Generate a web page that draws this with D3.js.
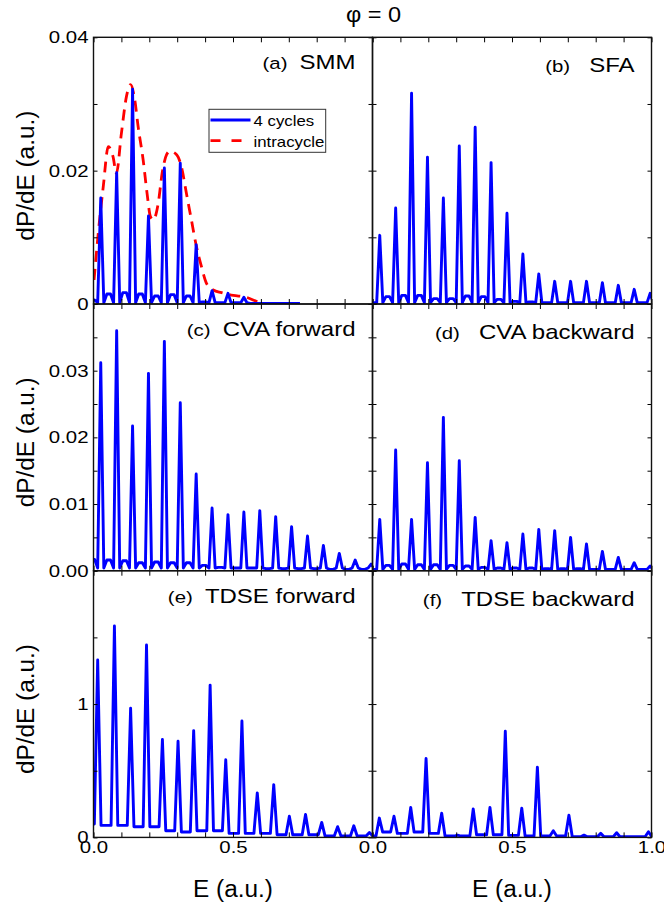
<!DOCTYPE html>
<html>
<head>
<meta charset="utf-8">
<script src="https://cdn.jsdelivr.net/npm/d3@7"></script>
<style>
  body { margin: 0; background: #fff; }
  svg text { font-family: Arial, "Liberation Sans", sans-serif; fill: #000; }
</style>
</head>
<body>
<div id="chart"></div>
<script>
// energies of the peaks (a.u.)
const peakE = [0.026, 0.083, 0.140, 0.197, 0.254, 0.311, 0.368, 0.425, 0.482, 0.539,
               0.596, 0.653, 0.710, 0.767, 0.824, 0.881, 0.938, 0.995];
const peakE_tdseFwd = [0.015, 0.075, 0.133, 0.190, 0.247, 0.303, 0.359, 0.418, 0.474, 0.532,
                       0.587, 0.646, 0.702, 0.760, 0.818, 0.875, 0.933, 0.989];
const peakE_tdseBwd = [0.0245, 0.077, 0.137, 0.192, 0.248, 0.305, 0.361, 0.421, 0.476, 0.535,
                       0.591, 0.648, 0.704, 0.758, 0.818, 0.875, 0.932, 0.989];

// peak heights
const smmPeaks = [0.0159, 0.0197, 0.0322, 0.0132, 0.0204, 0.0211, 0.0089, 0.0020, 0.0016, 0.0010];
const sfaPeaks = [0.0103, 0.0144, 0.0316, 0.0220, 0.0159, 0.0237, 0.0265, 0.0212, 0.0136, 0.0075,
                  0.0045, 0.0034, 0.0034, 0.0034, 0.0032, 0.0028, 0.0022, 0.0016];
const cvaFwdPeaks = [0.0312, 0.0360, 0.0217, 0.0296, 0.0344, 0.0252, 0.0145, 0.0094, 0.0084, 0.0088,
                     0.0090, 0.0081, 0.0066, 0.0052, 0.0038, 0.0026, 0.0016, 0.0010];
const cvaBwdPeaks = [0.0077, 0.0181, 0.0077, 0.0162, 0.0230, 0.0165, 0.0080, 0.0045, 0.0042, 0.0055,
                     0.0062, 0.0060, 0.0050, 0.0040, 0.0029, 0.0020, 0.0012, 0.0007];
const tdseFwdPeaks = [1.331, 1.585, 0.968, 1.443, 0.734, 0.721, 0.801, 1.142, 0.582, 0.873,
                      0.333, 0.396, 0.159, 0.172, 0.112, 0.080, 0.087, 0.037];
const tdseBwdPeaks = [0.145, 0.159, 0.224, 0.592, 0.182, 0.017, 0.214, 0.225, 0.796, 0.219,
                      0.527, 0.050, 0.167, 0.017, 0.030, 0.035, 0.006, 0.042];

// background level before / between / after the peaks
const smmFloor = [0.0006, 0.0015, 0.0017, 0.0015, 0.0012, 0.0014, 0.0012, 0.0003, 0.0002, 0.0002, 0.0001];
const sfaFloor = [0.0002, 0.0011, 0.0013, 0.0013, 0.0008, 0.0008, 0.0012, 0.0011, 0.0007, 0.0004,
                  0.0003, 0.0002, 0.0002, 0.0002, 0.0002, 0.0002, 0.0002, 0.0002, 0.0002];
const cvaFwdFloor = [0.0017, 0.0016, 0.0015, 0.0012, 0.0013, 0.0012, 0.0012, 0.0008, 0.0005, 0.0004,
                     0.0004, 0.0003, 0.0003, 0.0003, 0.0003, 0.0002, 0.0002, 0.0002, 0.0002];
const cvaBwdFloor = [0.0002, 0.0008, 0.0010, 0.0009, 0.0009, 0.0008, 0.0007, 0.0005, 0.0004, 0.0004,
                     0.0004, 0.0003, 0.0003, 0.0003, 0.0002, 0.0002, 0.0002, 0.0002, 0.0002];
const tdseFwdFloor = [0.10, 0.09, 0.09, 0.08, 0.08, 0.05, 0.04, 0.05, 0.05, 0.03,
                      0.03, 0.03, 0.02, 0.02, 0.02, 0.01, 0.01, 0.01, 0.01];
const tdseBwdFloor = [0.01, 0.04, 0.03, 0.04, 0.03, 0.01, 0.01, 0.02, 0.02, 0.015,
                      0.01, 0.01, 0.01, 0.005, 0.005, 0.005, 0.005, 0.005, 0.005];

// intracycle envelope of panel (a): [E, dP/dE]
const intracycle = [[0.002, 0.0036], [0.017, 0.0106], [0.035, 0.0176], [0.053, 0.0236], [0.070, 0.0221],
  [0.082, 0.0196], [0.100, 0.0256], [0.118, 0.0311], [0.133, 0.0329], [0.148, 0.0306],
  [0.160, 0.0266], [0.178, 0.0216], [0.192, 0.0166], [0.204, 0.0131], [0.214, 0.0126],
  [0.232, 0.0151], [0.246, 0.0196], [0.262, 0.0224], [0.274, 0.0229], [0.298, 0.0224],
  [0.315, 0.0206], [0.333, 0.0166], [0.351, 0.0126], [0.369, 0.0086], [0.387, 0.0056],
  [0.405, 0.0031], [0.429, 0.0021], [0.459, 0.0017], [0.501, 0.0013], [0.548, 0.0010],
  [0.584, 0.0004], [0.608, 0.0], [0.716, 0.0]];

// ticks and labels
const xTicks = [0, 0.1, 0.2, 0.3, 0.4, 0.5, 0.6, 0.7, 0.8, 0.9, 1.0];
const yTicksTop = [0, 0.01, 0.02, 0.03, 0.04];
const yTicksMid = [0, 0.005, 0.01, 0.015, 0.02, 0.025, 0.03, 0.035, 0.04];
const yTicksBot = [0, 0.5, 1, 1.5, 2];
const yLabTop = [[0, "0"], [0.02, "0.02"], [0.04, "0.04"]];
const yLabMid = [[0, "0.00"], [0.01, "0.01"], [0.02, "0.02"], [0.03, "0.03"]];
const yLabBot = [[0, "0"], [1, "1"]];
const xLabLeft = [[0, "0.0"], [0.5, "0.5"]];
const xLabRight = [[0, "0.0"], [0.5, "0.5"], [1, "1.0"]];

// layout
const W = 664, H = 906;
const colX = [93.5, 372.5], pw = 279;
const rowY = [37.3, 304, 570.7], ph = 266.7;

const rows = [
  { domain: [0, 0.04], ticks: yTicksTop, labels: yLabTop },
  { domain: [0, 0.04], ticks: yTicksMid, labels: yLabMid },
  { domain: [0, 2], ticks: yTicksBot, labels: yLabBot },
];

// foot: level the line drops to right beside each peak (null = stay on the background)
const panels = [
  { tag: "(a)", name: "SMM", row: 0, col: 0, E: peakE.slice(0, smmPeaks.length), h: smmPeaks, floor: smmFloor, hw: 0.011, foot: 0.0002, end: 0.74 },
  { tag: "(b)", name: "SFA", row: 0, col: 1, E: peakE, h: sfaPeaks, floor: sfaFloor, hw: 0.011, foot: 0.0002, end: 1.0 },
  { tag: "(c)", name: "CVA forward", row: 1, col: 0, E: peakE, h: cvaFwdPeaks, floor: cvaFwdFloor, hw: 0.011, foot: 0.0004, end: 1.0 },
  { tag: "(d)", name: "CVA backward", row: 1, col: 1, E: peakE, h: cvaBwdPeaks, floor: cvaBwdFloor, hw: 0.011, foot: 0.0002, end: 1.0 },
  { tag: "(e)", name: "TDSE forward", row: 2, col: 0, E: peakE_tdseFwd, h: tdseFwdPeaks, floor: tdseFwdFloor, hw: 0.012, foot: null, end: 1.0 },
  { tag: "(f)", name: "TDSE backward", row: 2, col: 1, E: peakE_tdseBwd, h: tdseBwdPeaks, floor: tdseBwdFloor, hw: 0.012, foot: null, end: 1.0 },
];

const svg = d3.select("#chart").append("svg")
  .attr("width", W).attr("height", H)
  .style("display", "block");

// text that is a bit wider than the font (the figure is stretched sideways)
const stretch = (sel, sx) => {
  sel.each(function () {
    const t = d3.select(this);
    const x = +t.attr("x") || 0, y = +t.attr("y") || 0;
    t.attr("x", 0).attr("y", 0).attr("transform", `translate(${x},${y}) scale(${sx},1)`);
  });
};

const lookup = (pairs) => (d) => {
  const p = pairs.find((q) => Math.abs(q[0] - d) < 1e-9);
  return p ? p[1] : "";
};

// spectrum as a comb of narrow peaks over the background level
const spikes = (p) => {
  const pts = [[0, p.floor[0]]];
  p.E.forEach((e, i) => {
    const fl = p.floor[i], fr = p.floor[i + 1];
    if (p.foot !== null) {
      pts.push([e - 2 * p.hw, fl], [e - p.hw, p.foot], [e, p.h[i]], [e + p.hw, p.foot], [e + 2 * p.hw, fr]);
    } else {
      pts.push([e - p.hw, fl], [e, p.h[i]], [e + p.hw, fr]);
    }
  });
  pts.push([p.end, p.floor[p.E.length]]);
  return pts;
};

panels.forEach((p, k) => {
  const r = rows[p.row];
  const g = svg.append("g").attr("transform", `translate(${colX[p.col]},${rowY[p.row]})`);
  const x = d3.scaleLinear().domain([0, 1]).range([0, pw]);
  const y = d3.scaleLinear().domain(r.domain).range([ph, 0]);

  g.append("clipPath").attr("id", "clip" + k)
    .append("rect").attr("x", 0).attr("y", -2).attr("width", pw).attr("height", ph + 2);

  const plot = g.append("g").attr("clip-path", `url(#clip${k})`);

  if (p.name === "SMM") {
    plot.append("path")
      .datum(intracycle)
      .attr("fill", "none")
      .attr("stroke", "#ff0000")
      .attr("stroke-width", 2.8)
      .attr("stroke-dasharray", "11,7")
      .attr("d", d3.line().x((d) => x(d[0])).y((d) => y(d[1])).curve(d3.curveMonotoneX));
  }

  plot.append("path")
    .datum(spikes(p))
    .attr("fill", "none")
    .attr("stroke", "#0000ff")
    .attr("stroke-width", 2.9)
    .attr("stroke-linejoin", "round")
    .attr("d", d3.line().x((d) => x(d[0])).y((d) => y(d[1])));

  // axes, ticks pointing inward
  const bottom = g.append("g").attr("transform", `translate(0,${ph})`)
    .call(d3.axisBottom(x).tickValues(xTicks).tickSize(-5).tickPadding(4)
      .tickFormat(p.row === 2 ? lookup(p.col === 0 ? xLabLeft : xLabRight) : () => ""));
  g.append("g").call(d3.axisTop(x).tickValues(xTicks).tickSize(-5).tickFormat(() => ""));
  const left = g.append("g")
    .call(d3.axisLeft(y).tickValues(r.ticks).tickSize(-4).tickPadding(5)
      .tickFormat(p.col === 0 ? lookup(r.labels) : () => ""));
  g.append("g").attr("transform", `translate(${pw},0)`)
    .call(d3.axisRight(y).tickValues(r.ticks).tickSize(-4).tickFormat(() => ""));

  g.selectAll(".domain").remove();
  g.selectAll(".tick line").attr("stroke", "#000");
  [bottom, left].forEach((a) => a.attr("font-size", 17).attr("font-family", null));
  stretch(bottom.selectAll("text"), 1.2);
  stretch(left.selectAll("text"), 1.2);

  g.append("rect")
    .attr("width", pw).attr("height", ph)
    .attr("fill", "none").attr("stroke", "#111").attr("stroke-width", 1.4);

  // panel label: tag + name, right aligned
  const baseY = p.col === 0 ? 32 : 35;
  const name = g.append("text")
    .attr("x", pw - 17).attr("y", baseY)
    .attr("text-anchor", "end").attr("font-size", 20)
    .text(p.name);
  const nameW = name.node().getComputedTextLength() * 1.2;
  stretch(name, 1.2);
  const tag = g.append("text")
    .attr("x", pw - 17 - nameW - (p.col === 0 ? 12 : 19)).attr("y", baseY)
    .attr("text-anchor", "end").attr("font-size", 17)
    .text(p.tag);
  stretch(tag, 1.2);

  if (p.name === "SMM") {
    const lg = g.append("g").attr("transform", "translate(115.5,72)");
    lg.append("rect").attr("width", 116.7).attr("height", 43)
      .attr("fill", "#fff").attr("stroke", "#333").attr("stroke-width", 1);
    lg.append("line").attr("x1", 1.5).attr("x2", 41.5).attr("y1", 10.7).attr("y2", 10.7)
      .attr("stroke", "#0000ff").attr("stroke-width", 2.8);
    lg.append("line").attr("x1", 1.5).attr("x2", 41.5).attr("y1", 31.4).attr("y2", 31.4)
      .attr("stroke", "#ff0000").attr("stroke-width", 2.8).attr("stroke-dasharray", "10,11");
    const lt = lg.selectAll("text.leg").data(["4 cycles", "intracycle"]).join("text")
      .attr("class", "leg")
      .attr("x", 44.5).attr("y", (d, i) => 16.7 + i * 21.3)
      .attr("font-size", 14)
      .text((d) => d);
    stretch(lt, 1.2);
  }
});

// y titles
rowY.forEach((ry) => {
  svg.append("text")
    .attr("text-anchor", "middle").attr("font-size", 23)
    .attr("transform", `translate(34,${ry + ph / 2 + 5}) rotate(-90) scale(1.06,1)`)
    .text("dP/dE (a.u.)");
});

// x titles
colX.forEach((cx) => {
  const t = svg.append("text")
    .attr("x", cx + pw / 2).attr("y", 897)
    .attr("text-anchor", "middle").attr("font-size", 23)
    .text("E (a.u.)");
  stretch(t, 1.06);
});

// figure title
const title = svg.append("text")
  .attr("x", 373.5).attr("y", 21.5)
  .attr("text-anchor", "middle").attr("font-size", 22)
  .text("φ = 0");
stretch(title, 1.07);
</script>
</body>
</html>
